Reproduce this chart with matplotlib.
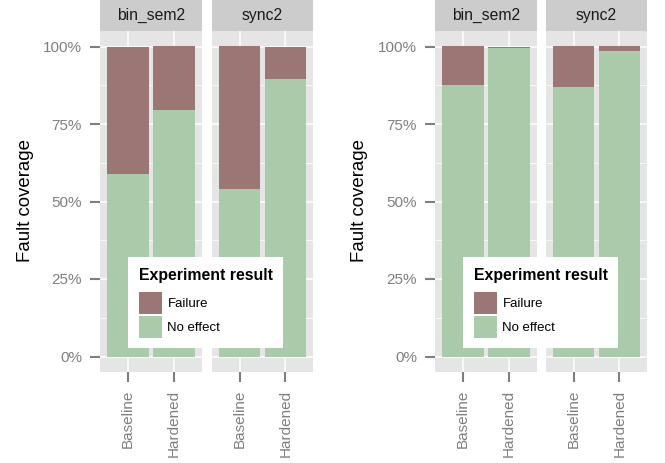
import matplotlib
matplotlib.use("Agg")
import matplotlib.pyplot as plt

plt.rcParams["font.family"] = ["Liberation Sans", "DejaVu Sans"]

# ============================================================
# DATA (fraction of injected faults, per facet: [Baseline, Hardened])
# ============================================================

FACETS = ["bin_sem2", "sync2"]
VERSIONS = ["Baseline", "Hardened"]
RESULTS = ["Failure", "No effect"]

LEFT_NO_EFFECT = {"bin_sem2": [0.590, 0.794], "sync2": [0.539, 0.894]}
LEFT_FAILURE = {"bin_sem2": [0.410, 0.206], "sync2": [0.461, 0.106]}

RIGHT_NO_EFFECT = {"bin_sem2": [0.877, 0.996], "sync2": [0.868, 0.987]}
RIGHT_FAILURE = {"bin_sem2": [0.123, 0.004], "sync2": [0.132, 0.013]}

Y_TICKS = [0, 0.25, 0.5, 0.75, 1.0]
Y_LABELS = ["0%", "25%", "50%", "75%", "100%"]

# ============================================================
# STYLE
# ============================================================

W, H = 665, 463
COL_FAIL = "#9B7674"
COL_OK = "#AACBAA"
PANEL_BG = "#E5E5E5"
STRIP_BG = "#CCCCCC"
GREY = "#7F7F7F"

fig = plt.figure(figsize=(W / 100, H / 100), dpi=100)


def px_axes(x0, y0, x1, y1):
    return fig.add_axes([x0 / W, 1 - y1 / H, (x1 - x0) / W, (y1 - y0) / H])


def draw_chart(facet_x, no_effect, failure, title_x, legend_x):
    handles = None
    for i, (facet, (x0, x1)) in enumerate(zip(FACETS, facet_x)):
        ax = px_axes(x0, 31, x1, 372)
        ax.set_facecolor(PANEL_BG)
        pos = [1, 2]
        b_ok = ax.bar(pos, no_effect[facet], width=0.9, color=COL_OK, zorder=2)
        b_fail = ax.bar(pos, failure[facet], width=0.9, bottom=no_effect[facet],
                        color=COL_FAIL, zorder=2)
        if handles is None:
            handles = [b_fail, b_ok]
        ax.set_xlim(0.4, 2.6)
        ax.set_ylim(-0.05, 1.05)
        ax.set_yticks(Y_TICKS)
        ax.set_yticks([0.125, 0.375, 0.625, 0.875], minor=True)
        ax.set_xticks(pos)
        ax.set_xticklabels(VERSIONS, rotation=90, va="top")
        ax.grid(which="major", color="white", linewidth=1.1)
        ax.grid(which="minor", axis="y", color="white", linewidth=0.5)
        ax.set_axisbelow(True)
        for s in ax.spines.values():
            s.set_visible(False)
        ax.tick_params(axis="both", which="major", length=7.5, width=1.5,
                       color=GREY, labelcolor=GREY, labelsize=11, pad=5.5)
        ax.tick_params(which="minor", length=0)
        if i == 0:
            ax.set_yticklabels(Y_LABELS)
        else:
            ax.tick_params(axis="y", left=False, labelleft=False)

        strip = px_axes(x0, 0, x1, 31)
        strip.set_facecolor(STRIP_BG)
        strip.set_xticks([])
        strip.set_yticks([])
        for s in strip.spines.values():
            s.set_visible(False)
        strip.text(0.5, 0.5, facet, ha="center", va="center", fontsize=11.3,
                   color="#1A1A1A", transform=strip.transAxes)

    fig.text(title_x / W, 1 - 201 / H, "Fault coverage", rotation=90,
             ha="center", va="center", fontsize=13.4)

    leg = fig.legend(handles, RESULTS, title="Experiment result",
                     loc="upper left", bbox_to_anchor=(legend_x / W, 1 - 257 / H),
                     fontsize=9.5, title_fontproperties={"weight": "bold", "size": 11.4},
                     alignment="left", frameon=True, fancybox=False,
                     framealpha=1, edgecolor="white", facecolor="white",
                     handlelength=1.74, handleheight=2.19, labelspacing=0.12,
                     handletextpad=0.45, borderpad=0.8, borderaxespad=0)
    leg.get_frame().set_linewidth(0)
    # a bit more room between the title and the keys, as ggplot does
    leg._legend_box.sep = 7
    return leg


draw_chart([(100, 202), (212, 313)], LEFT_NO_EFFECT, LEFT_FAILURE, 25, 128)
draw_chart([(435, 537), (546, 647)], RIGHT_NO_EFFECT, RIGHT_FAILURE, 360, 463)

fig.savefig("out.png", dpi=100)
